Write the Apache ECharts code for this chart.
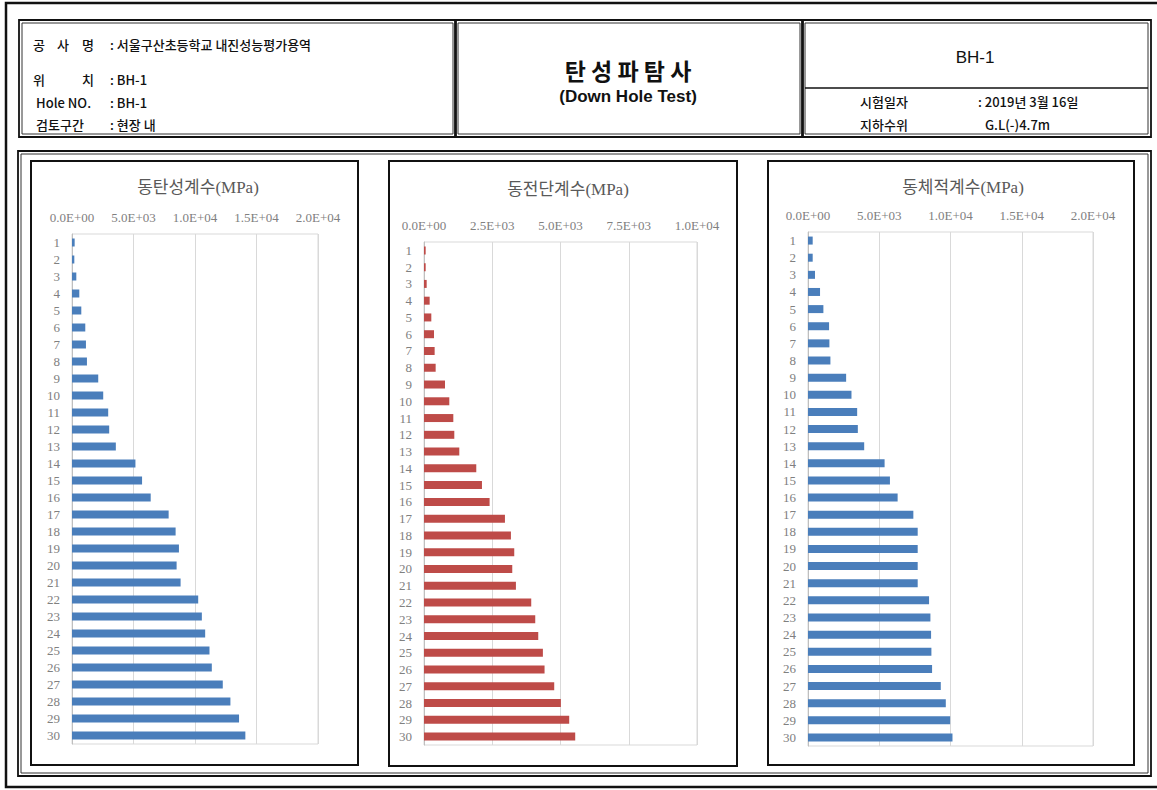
<!DOCTYPE html>
<html>
<head>
<meta charset="utf-8">
<title>탄성파탐사 (Down Hole Test) - BH-1</title>
<script src="https://cdn.jsdelivr.net/npm/echarts@6/dist/echarts.min.js"></script>
<style>
  html, body { margin: 0; padding: 0; background: #ffffff; }
  #chart { width: 1157px; height: 790px; }
</style>
</head>
<body>
<div id="chart"></div>
<script>
// Depth steps (m) listed top to bottom
const depths = ['1','2','3','4','5','6','7','8','9','10','11','12','13','14','15','16','17','18','19','20','21','22','23','24','25','26','27','28','29','30'];

// Dynamic Young's modulus (MPa)
const elasticModulus = [216, 189, 351, 594, 756, 1080, 1134, 1215, 2133, 2538, 2943, 3024, 3564, 5157, 5697, 6399,
  7857, 8424, 8694, 8505, 8829, 10260, 10557, 10827, 11178, 11367, 12258, 12879, 13581, 14094];

// Dynamic shear modulus (MPa)
const shearModulus = [61, 61, 98, 207, 268, 366, 390, 427, 769, 927, 1074, 1110, 1293, 1915, 2123, 2403,
  2965, 3184, 3306, 3233, 3367, 3928, 4075, 4185, 4355, 4416, 4770, 5014, 5319, 5539];

// Dynamic bulk modulus (MPa)
const bulkModulus = [329, 329, 493, 845, 1080, 1479, 1502, 1573, 2676, 3051, 3450, 3497, 3943, 5375, 5750, 6290,
  7393, 7698, 7698, 7698, 7698, 8496, 8590, 8637, 8660, 8707, 9318, 9670, 9975, 10139];

const chartTitles = ['동탄성계수(MPa)', '동전단계수(MPa)', '동체적계수(MPa)'];
const axisMax = [20000, 10000, 20000];
const axisStep = [5000, 2500, 5000];

const BLUE = '#4a7ebb';
const RED = '#be4b48';
const SERIF = '"Liberation Serif", "DejaVu Serif", "Noto Sans CJK KR", serif';
const SANS = '"Noto Sans CJK KR", "Liberation Sans", sans-serif';

// Excel-style scientific tick label, e.g. 5.0E+03
function sci(v) {
  if (v === 0) return '0.0E+00';
  const e = Math.floor(Math.log10(Math.abs(v)));
  const m = v / Math.pow(10, e);
  const sign = e < 0 ? '-' : '+';
  const ex = String(Math.abs(e)).padStart(2, '0');
  return m.toFixed(1) + 'E' + sign + ex;
}

// plot boxes for the three bar charts
const grids = [
  { left: 72, top: 234, width: 246, height: 510 },
  { left: 424, top: 242, width: 273, height: 503 },
  { left: 808, top: 232, width: 285, height: 514 }
];
const titleCenters = [[193, 174], [563, 176], [958, 174]];
const seriesData = [elasticModulus, shearModulus, bulkModulus];
const seriesColors = [BLUE, RED, BLUE];

const chart = echarts.init(document.getElementById('chart'), null, { renderer: 'svg', width: 1157, height: 790 });

// double-ruled frame: heavy outer line, thin inner line
function doubleBox(x, y, w, h) {
  return [
    { type: 'rect', shape: { x: x, y: y, width: w, height: h }, style: { fill: 'none', stroke: '#111', lineWidth: 1.8 }, silent: true },
    { type: 'rect', shape: { x: x + 3, y: y + 3, width: w - 6, height: h - 6 }, style: { fill: 'none', stroke: '#333', lineWidth: 1 }, silent: true }
  ];
}
function line(x1, y1, x2, y2, w, c) {
  return { type: 'line', shape: { x1: x1, y1: y1, x2: x2, y2: y2 }, style: { stroke: c || '#111', lineWidth: w || 1 }, silent: true };
}
function txt(x, y, s, opt) {
  opt = opt || {};
  return {
    type: 'text', x: x, y: y, silent: true,
    style: {
      text: s,
      fill: opt.color || '#111',
      font: (opt.weight || 'normal') + ' ' + (opt.size || 12) + 'px ' + (opt.family || SANS),
      textAlign: opt.align || 'left',
      textVerticalAlign: 'middle'
    }
  };
}

const graphics = [];
// sheet border
graphics.push({ type: 'rect', shape: { x: 6, y: 3, width: 1160, height: 784 }, style: { fill: 'none', stroke: '#111', lineWidth: 2.5 }, silent: true });
// header boxes
graphics.push(...doubleBox(19, 20, 437, 117));
graphics.push(...doubleBox(455, 20, 348, 117));
graphics.push(...doubleBox(802, 20, 349, 117));
graphics.push(line(805, 88, 1148, 88, 1.5));
// lower panel
graphics.push(...doubleBox(18, 151, 1133, 625));
// chart frames
graphics.push({ type: 'rect', shape: { x: 31, y: 161, width: 327, height: 604 }, style: { fill: 'none', stroke: '#111', lineWidth: 2 }, silent: true });
graphics.push({ type: 'rect', shape: { x: 389, y: 161, width: 348, height: 605 }, style: { fill: 'none', stroke: '#111', lineWidth: 2 }, silent: true });
graphics.push({ type: 'rect', shape: { x: 768, y: 161, width: 366, height: 604 }, style: { fill: 'none', stroke: '#111', lineWidth: 2 }, silent: true });

// header: project info
const hdr = { size: 13, weight: 500 };
graphics.push(txt(33, 44, '공', hdr));
graphics.push(txt(57, 44, '사', hdr));
graphics.push(txt(82, 44, '명', hdr));
graphics.push(txt(110, 44, ': 서울구산초등학교 내진성능평가용역', hdr));
graphics.push(txt(33, 79, '위', hdr));
graphics.push(txt(82, 79, '치', hdr));
graphics.push(txt(110, 79, ': BH-1', hdr));
graphics.push(txt(36, 102, 'Hole NO.', hdr));
graphics.push(txt(110, 102, ': BH-1', hdr));
graphics.push(txt(36, 124, '검토구간', hdr));
graphics.push(txt(110, 124, ': 현장 내', hdr));
// header: test name
graphics.push(txt(628, 70, '탄 성 파 탐 사', { size: 23, weight: 'bold', align: 'center' }));
graphics.push(txt(628, 96, '(Down Hole Test)', { size: 17, weight: 'bold', align: 'center', family: '"Liberation Sans Narrow", "Liberation Sans", sans-serif' }));
// header: borehole info
graphics.push(txt(975, 57, 'BH-1', { size: 17, align: 'center', family: '"Liberation Sans", sans-serif' }));
graphics.push(txt(860, 101, '시험일자', hdr));
graphics.push(txt(978, 101, ': 2019년 3월 16일', hdr));
graphics.push(txt(860, 124, '지하수위', hdr));
graphics.push(txt(985, 124, 'G.L(-)4.7m', hdr));

const option = {
  backgroundColor: '#ffffff',
  animation: false,
  title: chartTitles.map((t, i) => ({
    text: t,
    left: titleCenters[i][0],
    top: titleCenters[i][1],
    textAlign: 'center',
    textStyle: { fontFamily: SERIF, fontSize: 17, fontWeight: 'normal', color: '#595959' }
  })),
  grid: grids.map(g => Object.assign({ show: true, borderColor: '#d9d9d9', borderWidth: 1, backgroundColor: 'transparent' }, g)),
  xAxis: grids.map((g, i) => ({
    gridIndex: i,
    type: 'value',
    position: 'top',
    min: 0,
    max: axisMax[i],
    interval: axisStep[i],
    axisLine: { show: false },
    axisTick: { show: false },
    splitLine: { show: true, lineStyle: { color: '#d9d9d9', width: 1 } },
    axisLabel: { formatter: sci, color: '#808080', fontFamily: SERIF, fontSize: 13, margin: 10 }
  })),
  yAxis: grids.map((g, i) => ({
    gridIndex: i,
    type: 'category',
    data: depths,
    inverse: true,
    axisLine: { show: true, lineStyle: { color: '#bfbfbf', width: 1 } },
    axisTick: { show: false },
    axisLabel: { interval: 0, hideOverlap: false, color: '#808080', fontFamily: SERIF, fontSize: 13, margin: 12 }
  })),
  series: seriesData.map((d, i) => ({
    type: 'bar',
    xAxisIndex: i,
    yAxisIndex: i,
    data: d,
    barWidth: 8,
    itemStyle: { color: seriesColors[i] },
    silent: true
  })),
  graphic: graphics
};

chart.setOption(option);
</script>
</body>
</html>
